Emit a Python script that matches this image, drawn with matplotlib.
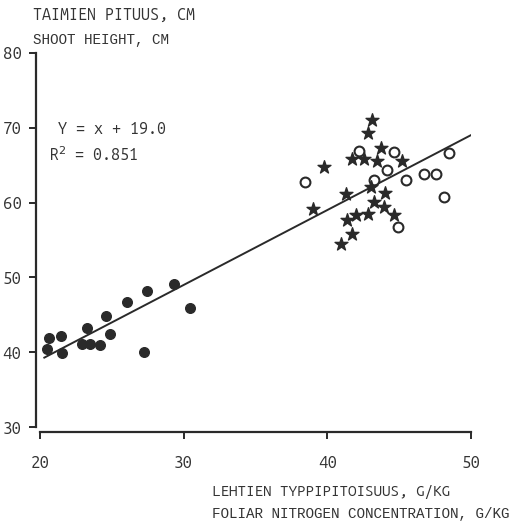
import matplotlib
matplotlib.use('Agg')
import matplotlib.pyplot as plt

# filled circles
x_filled = [20.47, 20.63, 21.53, 21.46, 22.92, 23.50, 23.25, 24.18, 24.89, 24.59,
            26.03, 27.43, 27.24, 29.35, 30.46]
y_filled = [40.4, 41.9, 39.9, 42.2, 41.1, 41.1, 43.3, 41.0, 42.4, 44.9,
            46.7, 48.2, 40.1, 49.1, 45.9]

# stars
x_star = [43.12, 42.80, 43.73, 41.69, 42.57, 43.47, 45.17, 39.78, 41.27, 43.03,
          44.01, 39.02, 43.26, 43.96, 44.63, 42.85, 41.97, 41.34, 41.69, 40.93]
y_star = [71.0, 69.3, 67.3, 65.8, 65.8, 65.6, 65.5, 64.8, 61.2, 62.1,
          61.3, 59.1, 60.1, 59.4, 58.4, 58.5, 58.4, 57.7, 55.8, 54.4]

# open circles
x_open = [38.44, 42.20, 44.61, 44.17, 43.24, 45.45, 46.70, 47.54, 48.44, 48.13, 44.89]
y_open = [62.7, 66.9, 66.7, 64.4, 63.0, 63.0, 63.8, 63.8, 66.6, 60.7, 56.7]

# regression y = x + 19.0
slope, intercept = 1.0, 19.0
line_x = [20.3, 50.0]

xticks = [20, 30, 40, 50]
yticks = [30, 40, 50, 60, 70, 80]

ink = '#2a2a2a'
text_ink = '#333333'
label_font = ['Ubuntu Mono', 'DejaVu Sans']
mono_font = ['Liberation Mono', 'DejaVu Sans Mono']
big = 12.2
small = 10.3

W = H = 522
fig = plt.figure(figsize=(W / 100, H / 100), dpi=100)
ax = fig.add_axes([40 / W, (H - 427.3) / H, (471 - 40) / W, (427.3 - 52.7) / H])

ax.plot(line_x, [slope * v + intercept for v in line_x], color=ink, lw=1.4)
ax.scatter(x_filled, y_filled, s=48, color=ink, zorder=3)
ax.scatter(x_open, y_open, s=50, facecolors='white', edgecolors=ink,
           linewidths=1.5, zorder=3)
ax.scatter(x_star, y_star, s=95, marker='*', color=ink, zorder=4)

ax.set_xlim(20, 50)
ax.set_ylim(30, 80)
ax.set_xticks(xticks)
ax.set_yticks(yticks)
for s in ['top', 'right']:
    ax.spines[s].set_visible(False)
for s in ['left', 'bottom']:
    ax.spines[s].set_position(('outward', 3.2))
    ax.spines[s].set_linewidth(1.6)
    ax.spines[s].set_color(ink)
ax.tick_params(axis='both', length=5, width=1.4, color=ink, labelcolor=text_ink,
               labelsize=big)
ax.tick_params(axis='x', pad=12)
ax.tick_params(axis='y', pad=5)
for lab in ax.get_xticklabels() + ax.get_yticklabels():
    lab.set_family(label_font)

fig.text(58 / W, 1 - 129 / H, 'Y = x + 19.0', family=label_font,
         fontsize=11.6, color=text_ink, va='center')
fig.text(49 / W, 1 - 155 / H, 'R$^2$ = 0.851', family=label_font,
         fontsize=11.6, color=text_ink, va='center')

fig.text(33 / W, 1 - 15 / H, 'TAIMIEN PITUUS, CM', family=label_font,
         fontsize=11.6, color=text_ink, va='center')
fig.text(33 / W, 1 - 40 / H, 'SHOOT HEIGHT, CM', family=mono_font,
         fontsize=small, color=text_ink, va='center')
fig.text(212 / W, 1 - 492 / H, 'LEHTIEN TYPPIPITOISUUS, G/KG', family=label_font,
         fontsize=11.0, color=text_ink, va='center')
fig.text(212 / W, 1 - 514 / H, 'FOLIAR NITROGEN CONCENTRATION, G/KG',
         family=mono_font, fontsize=small, color=text_ink, va='center')

fig.savefig('out.png', dpi=100)
